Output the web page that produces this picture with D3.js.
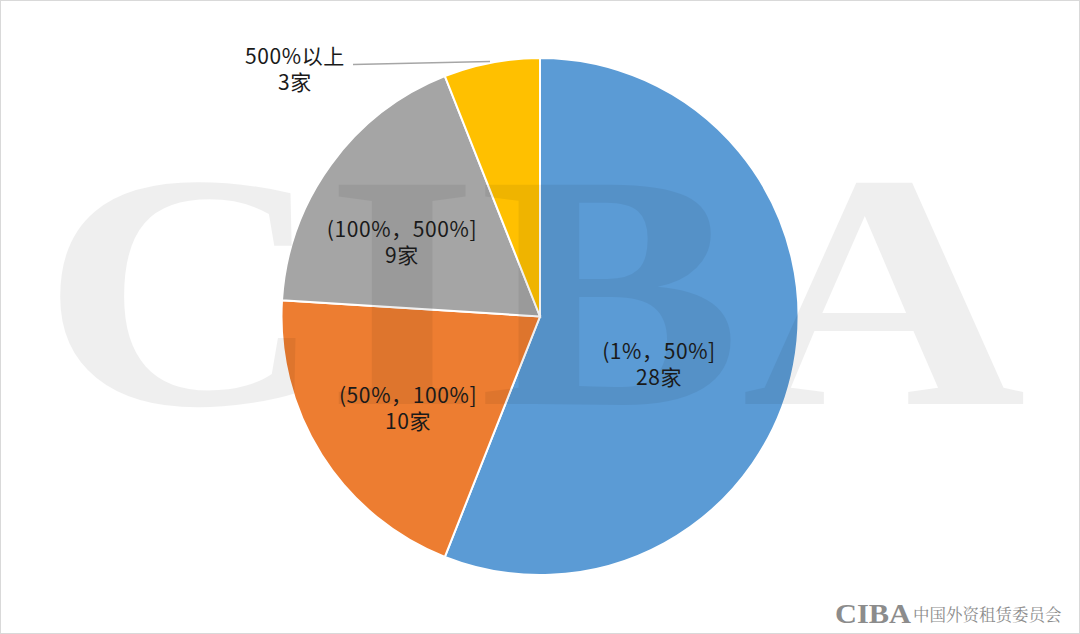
<!DOCTYPE html>
<html><head><meta charset="utf-8">
<script src="https://cdn.jsdelivr.net/npm/d3@7"></script>
<style>html,body{margin:0;padding:0;background:#fff;}svg{display:block;}</style>
</head><body>
<svg id="chart" width="1080" height="634"></svg>
<script>
const categories = ["(1%，50%]", "(50%，100%]", "(100%，500%]", "500%以上"];
const counts = [28, 10, 9, 3];
const countLabels = ["28家", "10家", "9家", "3家"];
const colors = ["#5B9BD5", "#ED7D31", "#A5A5A5", "#FFC000"];

const W = 1080, H = 634, cx = 540, cy = 316.5, R = 258.5;
const svg = d3.select("#chart");
svg.append("rect").attr("x",0.5).attr("y",0.5).attr("width",W-1).attr("height",H-1)
  .attr("fill","#fff").attr("stroke","#d9d9d9");

const g = svg.append("g").attr("transform",`translate(${cx},${cy})`);
const pie = d3.pie().sort(null).value(d=>d)(counts);
const arc = d3.arc().innerRadius(0).outerRadius(R);
g.selectAll("path.slice").data(pie).join("path").attr("class","slice")
  .attr("d",arc).attr("fill",(d,i)=>colors[i]).attr("stroke","#fff").attr("stroke-width",2);

// watermark
const wm = svg.append("g").attr("opacity",0.06);
wm.append("text").attr("x",41).attr("y",404).attr("textLength",985).attr("lengthAdjust","spacingAndGlyphs")
  .attr("font-family","Liberation Serif, DejaVu Serif").attr("font-weight","bold").attr("font-size",335)
  .attr("fill","#000").text("CIBA");

// labels (offsets of label block relative to pie center)
const labelOff = [[119,43.5],[-132,87.5],[-138,-79]];
const fontFam = "'Noto Sans CJK SC','Noto Sans',sans-serif";
const lab = svg.append("g").attr("font-family",fontFam).attr("font-size",21).attr("letter-spacing",0.6)
  .attr("fill","#1a1a1a").attr("text-anchor","middle");
pie.forEach((d,i)=>{
  let x, y;
  if (i < 3) { x = cx + labelOff[i][0]; y = cy + labelOff[i][1]; }
  else { x = 295; y = 65; }
  lab.append("text").attr("x",x).attr("y",y - 1).text(categories[i]);
  lab.append("text").attr("x",x).attr("y",y + 25).text(countLabels[i]);
});
// leader line for small slice
svg.append("path").attr("d",`M353,64.5L490,61.5`).attr("stroke","#a6a6a6").attr("stroke-width",1.5).attr("fill","none");

// logo bottom right
const logo = svg.append("g").attr("fill","#8c8c8c");
logo.append("text").attr("x",835).attr("y",623).attr("textLength",76).attr("lengthAdjust","spacingAndGlyphs")
  .attr("font-family","Liberation Serif").attr("font-weight","bold").attr("font-size",28).text("CIBA");
logo.append("text").attr("x",913).attr("y",621).attr("font-family","'Noto Serif CJK SC','Noto Sans CJK SC'")
  .attr("font-size",16.5).text("中国外资租赁委员会");
</script>
</body></html>
